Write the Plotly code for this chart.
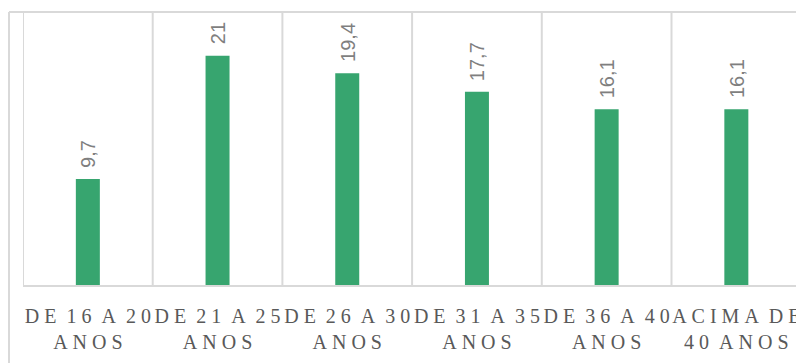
import plotly.graph_objects as go

# Faixas etárias e percentuais
faixas_linha1 = ["DE 16 A 20", "DE 21 A 25", "DE 26 A 30", "DE 31 A 35", "DE 36 A 40", "ACIMA DE"]
faixas_linha2 = ["ANOS", "ANOS", "ANOS", "ANOS", "ANOS", "40 ANOS"]
valores = [9.7, 21, 19.4, 17.7, 16.1, 16.1]

BAR_COLOR = "#37A56F"
GRID_COLOR = "#D9D9D9"
NB = "\u00a0"


def espacar(texto):
    # letter-spaced label: single space between letters, wider gap between words
    palavras = texto.split(" ")
    return (NB * 2).join(NB.join(list(p)) for p in palavras)


def fmt(v):
    return f"{v:g}".replace(".", ",")


rotulos = [espacar(a) + "<br>" + espacar(b) for a, b in zip(faixas_linha1, faixas_linha2)]
xs = list(range(len(valores)))

fig = go.Figure(
    go.Bar(
        x=xs,
        y=valores,
        marker=dict(color=BAR_COLOR, line=dict(width=0)),
        width=0.185,
        hoverinfo="skip",
    )
)

for x, v in zip(xs, valores):
    fig.add_annotation(
        x=x, y=v, text=fmt(v), textangle=-90, showarrow=False,
        yanchor="bottom", xanchor="center", yshift=9,
        font=dict(family="Liberation Sans", size=20, color="#7F7F7F"),
    )

# vertical separators between categories
for b in [i - 0.5 for i in range(len(valores) + 1)]:
    fig.add_shape(type="line", xref="x", yref="paper", x0=b, x1=b, y0=0, y1=1,
                  line=dict(color=GRID_COLOR, width=2), layer="below")

# chart frame (left and top edges)
fig.add_shape(type="line", xref="paper", yref="paper", x0=-14 / 773, x1=1.1, y0=1, y1=1,
              line=dict(color=GRID_COLOR, width=2))
fig.add_shape(type="line", xref="paper", yref="paper", x0=-14 / 773, x1=-14 / 773, y0=1, y1=-0.5,
              line=dict(color=GRID_COLOR, width=2))

fig.update_layout(
    width=796, height=363,
    margin=dict(l=23, r=0, t=12, b=78, autoexpand=False),
    paper_bgcolor="white", plot_bgcolor="white",
    showlegend=False,
    xaxis=dict(
        range=[-0.5, 5.46], tickvals=xs, ticktext=rotulos, tickangle=0, automargin=False,
        ticklabeloverflow="allow",
        showgrid=False, zeroline=False, showline=True, linecolor=GRID_COLOR, linewidth=2,
        ticks="", ticklabelstandoff=12,
        tickfont=dict(family="Liberation Serif", size=20, color="#595959"),
    ),
    yaxis=dict(range=[0, 25], showgrid=False, zeroline=False, showticklabels=False, showline=False),
)

fig.write_html("out.html")
